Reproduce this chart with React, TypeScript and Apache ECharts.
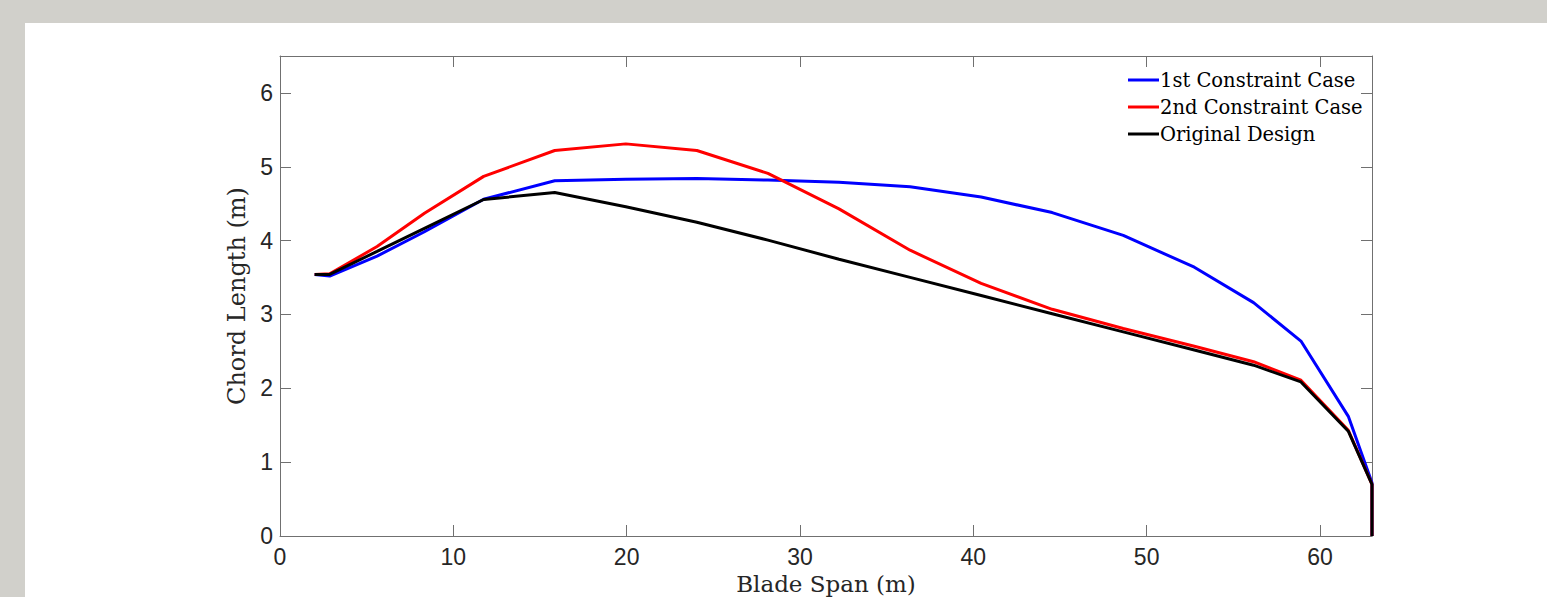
import React, { useEffect, useRef } from "react";
import * as echarts from "echarts";

const span = [2.0, 2.8667, 5.6, 8.3333, 11.75, 15.85, 19.95, 24.05, 28.15, 32.25, 36.35, 40.45, 44.55, 48.65, 52.75, 56.1667, 58.9, 61.6333, 63.0, 63.0];
const chord1st = [3.54, 3.52, 3.79, 4.12, 4.56, 4.81, 4.83, 4.84, 4.82, 4.79, 4.73, 4.59, 4.38, 4.07, 3.64, 3.16, 2.64, 1.62, 0.72, 0];
const chord2nd = [3.54, 3.55, 3.92, 4.37, 4.87, 5.22, 5.31, 5.22, 4.91, 4.43, 3.87, 3.42, 3.07, 2.81, 2.57, 2.36, 2.11, 1.43, 0.70, 0];
const chordOrig = [3.542, 3.542, 3.854, 4.167, 4.557, 4.652, 4.458, 4.249, 4.007, 3.748, 3.502, 3.256, 3.010, 2.764, 2.518, 2.313, 2.086, 1.419, 0.70, 0];
const seriesNames = ["1st Constraint Case", "2nd Constraint Case", "Original Design"];
const seriesColors = ["#0000ff", "#ff0000", "#000000"];
const xTitle = "Blade Span (m)";
const yTitle = "Chord Length (m)";

const serif = "'DejaVu Serif', serif";
const sans = "'Liberation Sans', Arial, sans-serif";
const axisGray = "#707070";

export default function App() {
  const ref = useRef<HTMLDivElement>(null);
  useEffect(() => {
    if (!ref.current) return;
    const chart = echarts.init(ref.current, undefined, { renderer: "svg" });
    const values = [chord1st, chord2nd, chordOrig];
    const axisCommon = {
      axisLine: { show: true, onZero: false, lineStyle: { color: axisGray, width: 1 } },
      axisTick: { show: true, inside: true, length: 11, lineStyle: { color: axisGray } },
      splitLine: { show: false },
    };
    chart.setOption({
      animation: false,
      backgroundColor: "transparent",
      grid: { left: 255, top: 33, right: 175, bottom: 61, containLabel: false, outerBoundsMode: "none" },
      legend: {
        orient: "vertical",
        left: 1103,
        top: 47,
        padding: 0,
        icon: "rect",
        itemWidth: 31,
        itemHeight: 3,
        itemGap: 7,
        textStyle: { fontFamily: serif, fontSize: 19.5, color: "#000", padding: [0, 0, 0, -4] },
        data: seriesNames,
      },
      xAxis: [
        {
          type: "value",
          min: 0,
          max: 63,
          interval: 10,
          name: xTitle,
          nameLocation: "middle",
          nameGap: 31,
          nameTextStyle: { fontFamily: serif, fontSize: 23, color: "#262626" },
          ...axisCommon,
          axisLabel: {
            fontFamily: sans,
            fontSize: 23,
            color: "#262626",
            margin: 9,
            formatter: (v: number) => (v % 10 === 0 ? String(v) : ""),
          },
        },
        {
          type: "value",
          position: "top",
          min: 0,
          max: 63,
          interval: 10,
          ...axisCommon,
          axisLabel: { show: false },
        },
      ],
      yAxis: [
        {
          type: "value",
          min: 0,
          max: 6.5,
          interval: 1,
          name: yTitle,
          nameLocation: "middle",
          nameGap: 29,
          nameTextStyle: { fontFamily: serif, fontSize: 24, color: "#262626" },
          ...axisCommon,
          axisLabel: {
            fontFamily: sans,
            fontSize: 23,
            color: "#262626",
            margin: 7,
            formatter: (v: number) => (Number.isInteger(v) ? String(v) : ""),
          },
        },
        {
          type: "value",
          position: "right",
          min: 0,
          max: 6.5,
          interval: 1,
          ...axisCommon,
          axisLabel: { show: false },
        },
      ],
      series: seriesNames.map((name, k) => ({
        name,
        type: "line",
        xAxisIndex: 0,
        yAxisIndex: 0,
        showSymbol: false,
        symbol: "none",
        lineStyle: { width: 3, color: seriesColors[k] },
        itemStyle: { color: seriesColors[k] },
        data: span.map((x, i) => [x, values[k][i]]),
      })),
    });
    return () => chart.dispose();
  }, []);
  return (
    <div style={{ position: "fixed", left: 0, top: 0, width: 1547, height: 597, background: "#d1d0cb", overflow: "hidden" }}>
      <div style={{ position: "absolute", left: 25, top: 23, width: 1522, height: 574, background: "#ffffff" }}>
        <div ref={ref} style={{ width: 1522, height: 574 }} />
      </div>
    </div>
  );
}
